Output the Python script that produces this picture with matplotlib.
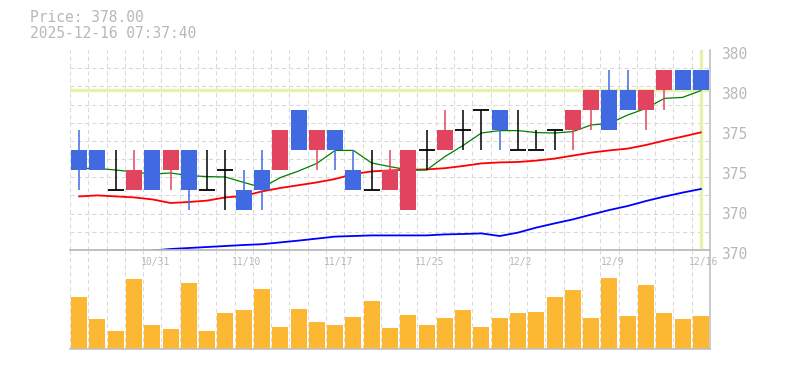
import numpy as np
import matplotlib
matplotlib.use("Agg")
import matplotlib.pyplot as plt
from matplotlib.transforms import ScaledTranslation

# trading days (10/27 - 12/16)
dates = ["10/27", "10/28", "10/29", "10/30", "10/31", "11/4", "11/5", "11/6", "11/7",
         "11/10", "11/11", "11/12", "11/13", "11/14", "11/17", "11/18", "11/19", "11/20",
         "11/21", "11/25", "11/26", "11/27", "11/28", "12/1", "12/2", "12/3", "12/4",
         "12/5", "12/8", "12/9", "12/10", "12/11", "12/12", "12/15", "12/16"]

opens  = [375, 375, 373, 373, 375, 374, 375, 373, 374, 373, 374, 374, 377, 375, 376, 374, 373, 373,
          372, 375, 375, 376, 377, 377, 375, 375, 376, 376, 377, 378, 378, 377, 378, 379, 379]
highs  = [376, 375, 375, 375, 375, 375, 375, 375, 375, 374, 375, 376, 377, 376, 376, 375, 375, 375,
          375, 376, 377, 377, 377, 377, 377, 376, 376, 377, 378, 379, 379, 378, 379, 379, 379]
lows   = [373, 374, 373, 373, 373, 373, 372, 373, 372, 372, 372, 374, 375, 374, 374, 373, 373, 373,
          372, 374, 375, 375, 375, 375, 375, 375, 375, 375, 376, 376, 377, 376, 377, 378, 378]
closes = [374, 374, 373, 374, 373, 375, 373, 373, 374, 372, 373, 376, 375, 376, 375, 373, 373, 374,
          375, 375, 376, 376, 377, 376, 375, 375, 376, 377, 378, 376, 377, 378, 379, 378, 378]

ma_short = [374.08, 374.08, 374.0, 373.9, 373.8, 373.85, 373.72, 373.67, 373.65, 373.38, 373.12,
            373.62, 373.95, 374.33, 374.98, 374.98, 374.35, 374.17, 374.0, 374.0, 374.67, 375.23,
            375.85, 375.97, 375.97, 375.87, 375.85, 375.92, 376.25, 376.33, 376.75, 377.08,
            377.58, 377.63, 377.97]
ma_mid = [372.68, 372.73, 372.68, 372.63, 372.53, 372.35, 372.4, 372.47, 372.63, 372.7, 372.93,
          373.1, 373.24, 373.38, 373.55, 373.8, 373.93, 373.98, 374.01, 374.03, 374.09, 374.2,
          374.33, 374.38, 374.4, 374.47, 374.57, 374.72, 374.87, 374.98, 375.07, 375.25,
          375.47, 375.67, 375.88]
ma_long = [np.nan, np.nan, np.nan, np.nan, 369.97, 370.05, 370.1, 370.15, 370.2, 370.25, 370.29,
           370.38, 370.47, 370.57, 370.67, 370.7, 370.73, 370.73, 370.73, 370.73, 370.78, 370.8,
           370.83, 370.7, 370.87, 371.12, 371.33, 371.53, 371.77, 372.0, 372.2, 372.45,
           372.67, 372.87, 373.05]

volumes = [52, 30, 18, 70, 24, 20, 66, 18, 36, 39, 60, 22, 40, 27, 24, 32, 48, 21, 34, 24,
           31, 39, 22, 31, 36, 37, 52, 59, 31, 71, 33, 64, 36, 30, 33]

last_price = 378.00
timestamp = "2025-12-16 07:37:40"

BLUE = "#4169e1"
RED = "#e2445f"
GRID = "#d9d9d9"
FRAME = "#c0c0c0"
TXT = "#b8b8b8"
HL = "#e4f2ac"

fig = plt.figure(figsize=(7.85, 3.70), dpi=100)
W, H = 785, 370
ax = fig.add_axes([70 / W, (H - 250) / H, 640 / W, 200 / H])
axv = fig.add_axes([70 / W, (H - 349) / H, 640 / W, 99 / H])
axv.set_facecolor("none")
ax.set_zorder(1)
ax.set_facecolor("none")

x = np.arange(len(dates))
bw = 0.875

for a in (ax, axv):
    a.set_xlim(-0.5, len(dates) - 0.5)
    a.set_xticks(np.arange(-0.5, len(dates), 1), minor=True)
    a.grid(True, which="minor", axis="x", color=GRID, linestyle=(0, (4, 3)), linewidth=0.75)
    a.tick_params(which="both", length=0)
    a.set_axisbelow(True)
    for s in ("top", "left"):
        a.spines[s].set_visible(False)
    for s in ("right", "bottom"):
        a.spines[s].set_color(FRAME)
        a.spines[s].set_linewidth(1.2)

# price panel
ax.set_ylim(370, 380)
ax.set_yticks(np.linspace(370, 380, 12), minor=True)
ax.grid(True, which="minor", axis="y", color=GRID, linestyle=(0, (4, 3)), linewidth=0.75)

ax.axhline(last_price, color=HL, lw=2.4, zorder=1)
ax.plot([x[-1], x[-1]], [370.05, 379.95], color=HL, lw=2.4, zorder=1)

ax.plot(x, ma_long, color="#0000ff", lw=1.3, zorder=2)
ax.plot(x, ma_mid, color="#ff0000", lw=1.3, zorder=2)
ax.plot(x, ma_short, color="#007f00", lw=0.9, zorder=2)

for i in range(len(dates)):
    o, h, l, c = opens[i], highs[i], lows[i], closes[i]
    if c > o:
        col = RED
    elif c < o:
        col = BLUE
    else:
        col = "black"
    ax.vlines(x[i], l, h, color=col, lw=1.1, zorder=3)
    if o == c:
        ax.hlines(o, x[i] - bw / 2, x[i] + bw / 2, color="black", lw=1.3, zorder=3)
    else:
        ax.bar(x[i], abs(c - o), bottom=min(o, c), width=bw, color=col, zorder=4, linewidth=0)

ax.yaxis.tick_right()
yt = np.arange(370, 381, 2)
ax.set_yticks(yt)
ax.set_yticklabels([f"{int(5 * round(v / 5))}" for v in yt], fontsize=10.5,
                   color=TXT, family="DejaVu Sans Mono")
ax.tick_params(axis="y", pad=8)
off = ScaledTranslation(0, -3 / 100, fig.dpi_scale_trans)
for lab in ax.get_yticklabels():
    lab.set_transform(lab.get_transform() + off)

tick_idx = list(range(len(dates) - 1, -1, -5))[::-1]
ax.set_xticks(tick_idx)
ax.set_xticklabels([dates[i] for i in tick_idx], fontsize=7, color=TXT, family="DejaVu Sans Mono")
ax.tick_params(axis="x", pad=5)
offx = ScaledTranslation(3 / 100, 0, fig.dpi_scale_trans)
for lab in ax.get_xticklabels():
    lab.set_transform(lab.get_transform() + offx)

# volume panel
axv.spines["top"].set_visible(True)
axv.spines["top"].set_color(FRAME)
axv.spines["top"].set_linewidth(1.2)
axv.bar(x, volumes, width=bw, color="#fdb833", linewidth=0, zorder=2)
axv.set_ylim(0, 99)
axv.set_yticks([])
axv.set_xticks([])

fig.text(30 / W, 1 - 18 / H, f"Price: {last_price:.2f}", fontsize=10.5, color=TXT,
         family="DejaVu Sans Mono", va="center")
fig.text(30 / W, 1 - 33 / H, timestamp, fontsize=10.5, color=TXT,
         family="DejaVu Sans Mono", va="center")

fig.savefig("out.png", dpi=100)
